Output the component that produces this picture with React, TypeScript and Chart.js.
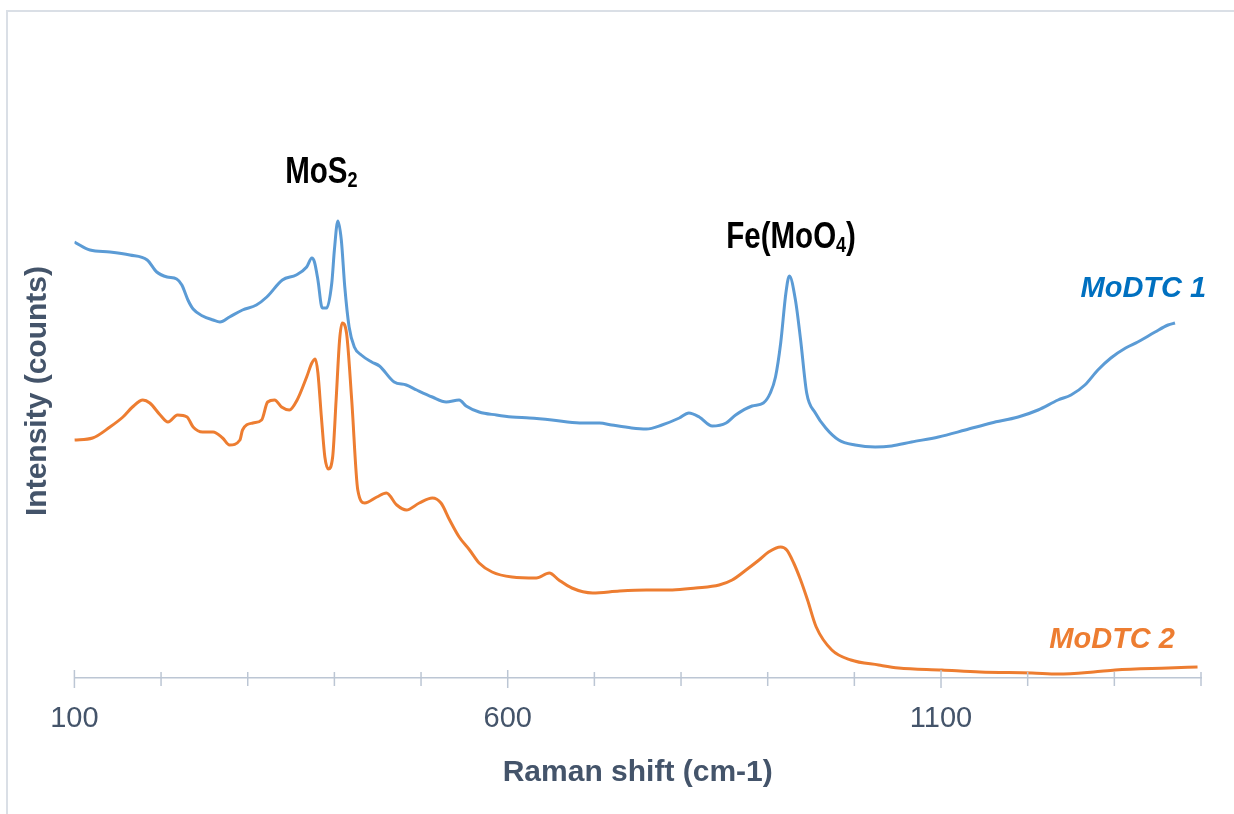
import React, { useEffect, useRef } from 'react';
import { Chart, registerables } from 'chart.js';

Chart.register(...registerables);

// Raman shift (cm-1) and intensity (arbitrary counts)
const modtc1Shift = [
  100, 118, 141, 164, 184, 195, 207, 218, 224, 231, 237, 248, 260, 268, 279, 294, 310, 322, 340, 356,
  368, 374, 377, 381, 386, 391, 397, 400, 404, 408, 412, 417, 423, 431, 443, 452, 469, 483, 495, 513,
  529, 544, 552, 567, 587, 605, 625, 651, 683, 706, 720, 743, 760, 778, 798, 809, 821, 836, 852, 863,
  882, 895, 903, 909, 915, 921, 925, 932, 938, 945, 955, 967, 982, 1001, 1024, 1043, 1066, 1097, 1128,
  1158, 1189, 1212, 1235, 1250, 1266, 1281, 1296, 1313, 1327, 1347, 1362, 1370,
];
const modtc1Intensity = [
  436, 428, 426, 423, 418, 406, 401, 399, 393, 378, 369, 362, 358, 356, 361, 368, 373, 381, 398, 403,
  411, 420, 416, 398, 370, 370, 395, 428, 457, 438, 391, 351, 331, 323, 316, 312, 296, 293, 288, 281,
  276, 278, 272, 266, 263, 261, 260, 258, 255, 255, 253, 250, 249, 253, 260, 265, 261, 252, 255, 263,
  272, 275, 285, 301, 335, 385, 402, 378, 338, 285, 265, 250, 238, 233, 231, 232, 236, 241, 248,
  255, 261, 268, 278, 283, 293, 308, 320, 330, 336, 346, 353, 355,
];

const modtc2Shift = [
  100, 121, 141, 156, 167, 179, 187, 199, 208, 219, 230, 237, 248, 260, 271, 279, 291, 294, 306, 316,
  323, 331, 339, 348, 357, 368, 374, 378, 381, 385, 389, 393, 398, 402, 406, 409, 414, 420, 427, 435,
  449, 460, 472, 483, 498, 513, 523, 533, 544, 556, 567, 582, 605, 633, 648, 659, 674, 698, 729, 760,
  790, 817, 844, 859, 875, 890, 901, 915, 922, 930, 938, 946, 956, 974, 996, 1028, 1051, 1101, 1145,
  1205, 1235, 1276, 1301, 1362, 1396,
];
const modtc2Intensity = [
  238, 240, 251, 261, 271, 278, 275, 263, 256, 263, 261, 251, 246, 246, 240, 233, 238, 248, 255, 258,
  276, 278, 271, 268, 278, 301, 315, 319, 305, 261, 221, 209, 221, 278, 338, 355, 345, 278, 188, 175,
  181, 185, 173, 168, 175, 180, 175, 158, 141, 128, 115, 106, 101, 100, 105, 98, 90, 85, 87, 88,
  88, 90, 93, 98, 108, 118, 126, 131, 128, 115, 98, 78, 51, 28, 18, 13, 10, 8, 6,
  5, 4, 6, 8, 10, 11,
];

const xMin = 100;
const xMax = 1400;
const xStep = 100;
const labelledTicks = [100, 600, 1100];
const yMin = 0;
const yMax = 574;

const seriesNames = ['MoDTC 1', 'MoDTC 2'];
const seriesColors = ['#5b9bd5', '#ed7d31'];
const seriesLabelColors = ['#0070c0', '#ed7d31'];

const xTitle = 'Raman shift (cm-1)';
const yTitle = 'Intensity (counts)';

// peak annotations: text parts, anchor in data coordinates
const peakNotes = [
  { parts: [{ t: 'MoS', sub: false }, { t: '2', sub: true }], x: 385, y: 495 },
  { parts: [{ t: 'Fe(MoO', sub: false }, { t: '4', sub: true }, { t: ')', sub: false }], x: 927, y: 430 },
];
// series labels: left edge + baseline in data coordinates
const seriesNotes = [
  { x: 1261, y: 381 },
  { x: 1225, y: 30 },
];

const textColor = '#44546a';
const axisColor = '#bcc6d4';
const FONT = "'Liberation Sans', Arial, sans-serif";

function drawParts(ctx: CanvasRenderingContext2D, parts: { t: string; sub: boolean }[], cx: number, base: number) {
  const size = 36;
  const subSize = 22;
  const sx = 0.82;
  let total = 0;
  const widths = parts.map((p) => {
    ctx.font = `bold ${p.sub ? subSize : size}px ${FONT}`;
    const w = ctx.measureText(p.t).width;
    total += w;
    return w;
  });
  ctx.save();
  ctx.translate(cx - (total * sx) / 2, base);
  ctx.scale(sx, 1);
  ctx.fillStyle = '#000000';
  ctx.textBaseline = 'alphabetic';
  ctx.textAlign = 'left';
  let x = 0;
  parts.forEach((p, i) => {
    ctx.font = `bold ${p.sub ? subSize : size}px ${FONT}`;
    ctx.fillText(p.t, x, p.sub ? 4 : 0);
    x += widths[i];
  });
  ctx.restore();
}

const decorPlugin = {
  id: 'decor',
  beforeDraw(chart: any) {
    const ctx = chart.ctx as CanvasRenderingContext2D;
    ctx.save();
    ctx.strokeStyle = '#dadfe6';
    ctx.lineWidth = 2;
    ctx.beginPath();
    ctx.moveTo(7, chart.height + 5);
    ctx.lineTo(7, 11);
    ctx.lineTo(chart.width + 5, 11);
    ctx.stroke();
    ctx.restore();
  },
  afterDraw(chart: any) {
    const ctx = chart.ctx as CanvasRenderingContext2D;
    const xs = chart.scales.x;
    const ys = chart.scales.y;
    const y0 = xs.top;
    ctx.save();
    ctx.strokeStyle = axisColor;
    ctx.lineWidth = 1.5;
    for (let v = xMin; v <= xMax; v += xStep) {
      const px = xs.getPixelForValue(v);
      const major = labelledTicks.includes(v);
      ctx.beginPath();
      ctx.moveTo(px, y0 - (major ? 8 : 6));
      ctx.lineTo(px, y0 + (major ? 10 : 8));
      ctx.stroke();
    }
    ctx.restore();

    peakNotes.forEach((n) => {
      drawParts(ctx, n.parts, xs.getPixelForValue(n.x), ys.getPixelForValue(n.y));
    });

    ctx.save();
    ctx.font = `italic bold 29px ${FONT}`;
    ctx.textAlign = 'left';
    ctx.textBaseline = 'alphabetic';
    seriesNotes.forEach((n, i) => {
      ctx.fillStyle = seriesLabelColors[i];
      ctx.fillText(seriesNames[i], xs.getPixelForValue(n.x), ys.getPixelForValue(n.y));
    });
    ctx.restore();
  },
};

export default function App() {
  const ref = useRef<HTMLCanvasElement | null>(null);

  useEffect(() => {
    document.body.style.margin = '0';
    if (!ref.current) return;
    const toPoints = (xs: number[], ys: number[]) => xs.map((x, i) => ({ x, y: ys[i] }));
    const chart = new Chart(ref.current, {
      type: 'scatter',
      data: {
        datasets: [
          {
            label: seriesNames[0],
            data: toPoints(modtc1Shift, modtc1Intensity),
            showLine: true,
            borderColor: seriesColors[0],
            backgroundColor: seriesColors[0],
            borderWidth: 3,
            pointRadius: 0,
            cubicInterpolationMode: 'monotone',
          },
          {
            label: seriesNames[1],
            data: toPoints(modtc2Shift, modtc2Intensity),
            showLine: true,
            borderColor: seriesColors[1],
            backgroundColor: seriesColors[1],
            borderWidth: 3,
            pointRadius: 0,
            cubicInterpolationMode: 'monotone',
          },
        ],
      },
      options: {
        responsive: false,
        animation: false,
        layout: { padding: { top: 104, right: 33, left: 0, bottom: 0 } },
        plugins: {
          legend: { display: false },
          tooltip: { enabled: false },
        },
        scales: {
          x: {
            type: 'linear',
            position: 'bottom',
            min: xMin,
            max: xMax,
            grid: { display: false },
            border: { display: true, color: axisColor, width: 1.5 },
            ticks: {
              stepSize: xStep,
              autoSkip: false,
              maxRotation: 0,
              padding: 16,
              color: textColor,
              font: { family: FONT, size: 29 },
              callback: (v: any) => (labelledTicks.includes(Number(v)) ? String(v) : ''),
            },
            title: {
              display: true,
              text: xTitle,
              color: textColor,
              font: { family: FONT, size: 30, weight: 'bold' },
              padding: { top: 0, bottom: 23 },
            },
            afterFit: (s: any) => {
              s.height = 136;
            },
          },
          y: {
            type: 'linear',
            min: yMin,
            max: yMax,
            grid: { display: false },
            border: { display: false },
            ticks: { display: false },
            title: {
              display: true,
              text: yTitle,
              color: textColor,
              font: { family: FONT, size: 30, weight: 'bold' },
              padding: { top: 20, bottom: 0 },
            },
            afterFit: (s: any) => {
              s.width = 74.4;
            },
          },
        },
      },
      plugins: [decorPlugin],
    } as any);
    return () => chart.destroy();
  }, []);

  return (
    <div style={{ width: 1234, height: 814, position: 'relative', background: '#ffffff' }}>
      <canvas ref={ref} width={1234} height={814} style={{ display: 'block' }} />
    </div>
  );
}
